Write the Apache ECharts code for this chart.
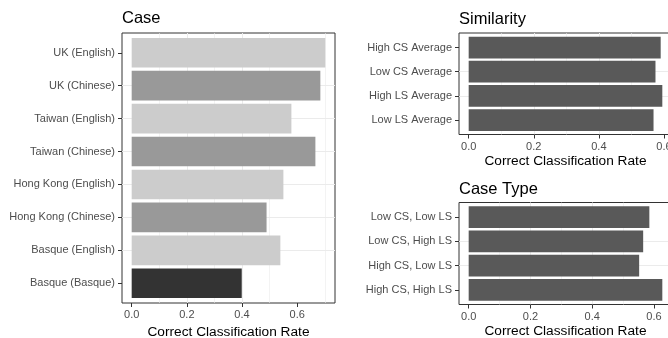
<!DOCTYPE html>
<html>
<head>
<meta charset="utf-8">
<script src="https://cdn.jsdelivr.net/npm/echarts@6/dist/echarts.min.js"></script>
<style>
html,body{margin:0;padding:0;background:#fff;}
#chart{width:668px;height:338px;}
</style>
</head>
<body>
<div id="chart"></div>
<script>
// ---- data ----
const caseCategories = ['UK (English)', 'UK (Chinese)', 'Taiwan (English)', 'Taiwan (Chinese)',
  'Hong Kong (English)', 'Hong Kong (Chinese)', 'Basque (English)', 'Basque (Basque)'];
const caseValues = [0.702, 0.684, 0.579, 0.666, 0.550, 0.489, 0.539, 0.399];
const caseLanguages = ['English', 'Chinese', 'English', 'Chinese', 'English', 'Chinese', 'English', 'Basque'];

const similarityCategories = ['High CS Average', 'Low CS Average', 'High LS Average', 'Low LS Average'];
const similarityValues = [0.590, 0.574, 0.595, 0.568];

const caseTypeCategories = ['Low CS, Low LS', 'Low CS, High LS', 'High CS, Low LS', 'High CS, High LS'];
const caseTypeValues = [0.585, 0.565, 0.552, 0.627];

const xTickValues = [0, 0.2, 0.4, 0.6];
const panelTitles = ['Case', 'Similarity', 'Case Type'];
const xAxisTitle = 'Correct Classification Rate';

// ---- styles ----
const FONT = '"Liberation Sans", Arial, Helvetica, sans-serif';
const languageColors = { English: '#cccccc', Chinese: '#999999', Basque: '#333333' };
const defaultFill = '#595959';

const panels = [
  { cats: caseCategories, vals: caseValues, colors: caseLanguages.map(l => languageColors[l]),
    grid: { left: 122, top: 33, width: 213, height: 270 }, title: { left: 122, top: 9.5 } },
  { cats: similarityCategories, vals: similarityValues, colors: null,
    grid: { left: 459, top: 33, width: 213, height: 101.5 }, title: { left: 459, top: 10.5 } },
  { cats: caseTypeCategories, vals: caseTypeValues, colors: null,
    grid: { left: 459, top: 202.5, width: 213, height: 102 }, title: { left: 459, top: 180.5 } }
];

const option = {
  backgroundColor: '#ffffff',
  animation: false,
  title: [], grid: [], xAxis: [], yAxis: [], series: []
};

panels.forEach((p, i) => {
  const n = p.cats.length;
  const maxV = Math.max(...p.vals);
  option.title.push({
    text: panelTitles[i], left: p.title.left, top: p.title.top, padding: 0,
    textStyle: { fontFamily: FONT, fontSize: 16.5, fontWeight: 'normal', color: '#000' }
  });
  option.grid.push(Object.assign({
    show: true, backgroundColor: '#ffffff', borderColor: '#333333', borderWidth: 1,
    containLabel: false, outerBoundsMode: 'none'
  }, p.grid));
  option.xAxis.push({
    type: 'value', gridIndex: i, position: 'bottom',
    min: -0.05 * maxV, max: 1.05 * maxV, splitNumber: 4,
    axisLine: { show: false, onZero: false },
    axisTick: { show: true, inside: false, length: 4, customValues: xTickValues, lineStyle: { color: '#333333', width: 1 } },
    axisLabel: { show: true, customValues: xTickValues, margin: 6.5, fontFamily: FONT, fontSize: 11, color: '#4d4d4d',
      formatter: v => v.toFixed(1) },
    splitLine: { show: true, showMinLine: false, showMaxLine: false, lineStyle: { color: '#ebebeb', width: 1 } },
    minorTick: { show: false, splitNumber: 2 },
    minorSplitLine: { show: true, lineStyle: { color: '#ebebeb', width: 0.6 } },
    name: xAxisTitle, nameLocation: 'middle', nameGap: 20,
    nameTextStyle: { fontFamily: FONT, fontSize: 13.7, color: '#000' }
  });
  const yTicks = p.cats.map((c, k) => k + 1);
  option.yAxis.push({
    type: 'value', gridIndex: i, inverse: true, position: 'left',
    min: 0.4, max: n + 0.6, splitNumber: n,
    axisLine: { show: false, onZero: false },
    axisTick: { show: true, inside: false, length: 4, customValues: yTicks, lineStyle: { color: '#333333', width: 1 } },
    axisLabel: { show: true, customValues: yTicks, margin: 7, fontFamily: FONT, fontSize: 11, color: '#4d4d4d',
      formatter: v => p.cats[Math.round(v) - 1] || '' },
    splitLine: { show: true, showMinLine: false, showMaxLine: false, lineStyle: { color: '#ebebeb', width: 1 } }
  });
  option.series.push({
    type: 'custom', xAxisIndex: i, yAxisIndex: i,
    data: p.vals.map((v, k) => ({
      value: [v, k + 1],
      itemStyle: { color: p.colors ? p.colors[k] : defaultFill }
    })),
    encode: { x: 0, y: 1 },
    renderItem: function (params, api) {
      const v = api.value(0), pos = api.value(1);
      const a = api.coord([0, pos]);
      const b = api.coord([v, pos]);
      const h = Math.abs(api.size([0, 1])[1]) * 0.9;
      return {
        type: 'rect',
        shape: { x: a[0], y: a[1] - h / 2, width: b[0] - a[0], height: h },
        style: { fill: api.visual('color') }
      };
    }
  });
});

const chart = echarts.init(document.getElementById('chart'), null, { renderer: 'canvas' });
chart.setOption(option);
</script>
</body>
</html>
